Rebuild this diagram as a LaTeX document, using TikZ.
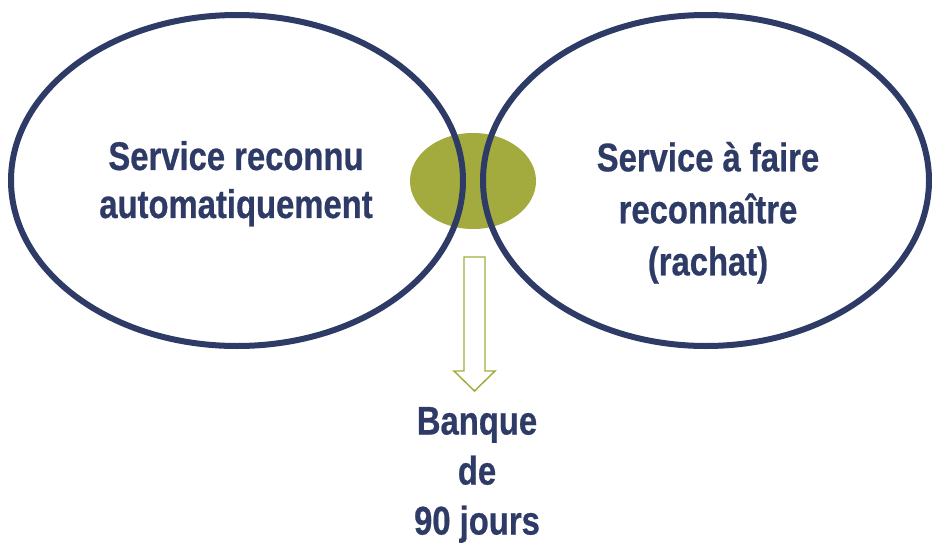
\documentclass[tikz,border=0pt]{standalone}
\usepackage{fontspec}
\setmainfont{Liberation Sans}[FakeStretch=0.82, BoldFeatures={FakeBold=0.6}]
\usetikzlibrary{shapes.geometric}
\definecolor{navy}{HTML}{2D3B66}
\definecolor{olive}{HTML}{A3AB3F}
\begin{document}
\begin{tikzpicture}[x=0.75pt,y=-0.75pt,
    every node/.style={inner sep=0pt, outer sep=0pt},
    zone/.style={draw=navy, line width=4.5pt, ellipse},
    lbl/.style={text=navy, align=center, anchor=north,
      font=\bfseries\fontsize{30}{36}\selectfont}]

    \useasboundingbox (0,0) rectangle (932,550);

    % Overlap between the two kinds of service
    \node (mid) [ellipse, fill=olive, minimum width=94.5pt, minimum height=72pt] at (473,181) {};

    % The two services
    \node (left)  [zone, minimum width=339pt, minimum height=248.25pt] at (237,180.5) {};
    \node (right) [zone, minimum width=334.5pt, minimum height=248.25pt] at (706,180.5) {};

    \node (lefttxt)  [lbl] at (236,141) {Service reconnu\\automatiquement};
    \node (righttxt) [lbl, font=\bfseries\fontsize{30}{39}\selectfont] at (708,142) {Service à faire\\reconnaître\\(rachat)};

    % Hollow arrow down to the bank of days
    \draw [olive, line width=1.1pt, line join=miter]
      (464,257) -- (485,257) -- (485,371) -- (495,371) -- (474.5,391)
      -- (454,371) -- (464,371) -- cycle;

    \node (bank) [lbl, font=\bfseries\fontsize{30}{37.5}\selectfont] at (477,407) {Banque\\de\\90 jours};

  \end{tikzpicture}
\end{document}
